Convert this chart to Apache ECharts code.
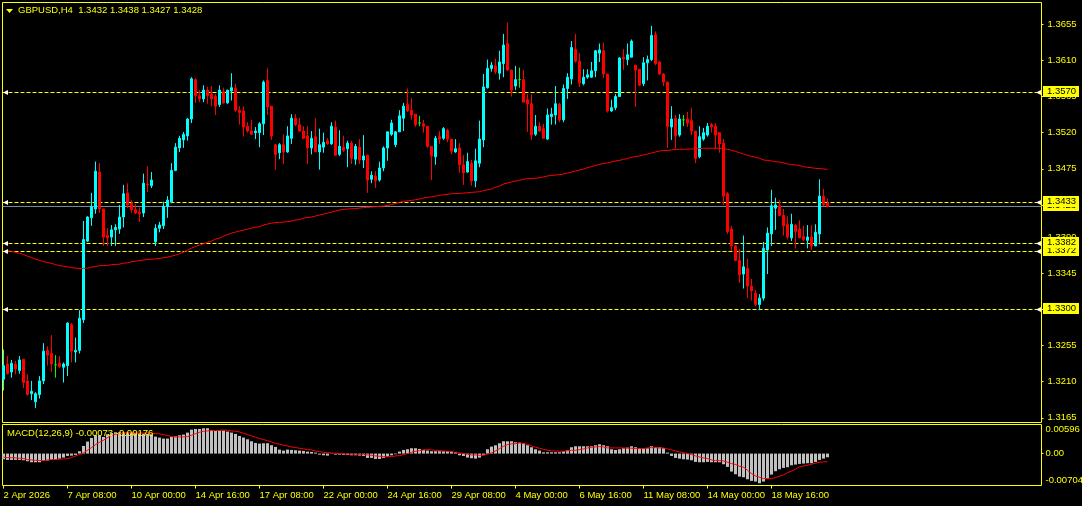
<!DOCTYPE html>
<html>
<head>
<meta charset="utf-8">
<title>GBPUSD,H4</title>
<script src="https://cdn.jsdelivr.net/npm/echarts@6/dist/echarts.min.js"></script>
<style>
html,body{margin:0;padding:0;background:#000;}
#chart_main{width:1082px;height:506px;}
</style>
</head>
<body>
<div id="chart_main"></div>
<script>
// H4 candles, oldest first
var opens = [1.3213,1.3232,1.3222,1.3232,1.3224,1.3238,1.3211,1.3195,1.3185,1.3194,
1.3211,1.3249,1.3245,1.3231,1.3233,1.3228,1.3230,1.3281,1.3247,1.3249,
1.3287,1.3385,1.3414,1.3425,1.3471,1.3425,1.3392,1.3390,1.3399,1.3400,
1.3415,1.3445,1.3432,1.3424,1.3421,1.3420,1.3456,1.3454,1.3384,1.3401,
1.3404,1.3428,1.3434,1.3473,1.3501,1.3511,1.3516,1.3537,1.3586,1.3566,
1.3562,1.3573,1.3568,1.3565,1.3555,1.3571,1.3557,1.3572,1.3575,1.3548,
1.3547,1.3528,1.3522,1.3520,1.3520,1.3531,1.3585,1.3553,1.3505,1.3495,
1.3505,1.3496,1.3513,1.3538,1.3530,1.3522,1.3516,1.3501,1.3515,1.3496,
1.3502,1.3510,1.3506,1.3527,1.3493,1.3502,1.3500,1.3507,1.3487,1.3502,
1.3486,1.3492,1.3462,1.3466,1.3461,1.3476,1.3501,1.3518,1.3505,1.3521,
1.3538,1.3555,1.3548,1.3543,1.3532,1.3531,1.3528,1.3503,1.3490,1.3515,
1.3513,1.3523,1.3512,1.3496,1.3501,1.3480,1.3471,1.3482,1.3460,1.3482,
1.3511,1.3576,1.3600,1.3603,1.3594,1.3606,1.3631,1.3598,1.3578,1.3586,
1.3586,1.3561,1.3556,1.3518,1.3528,1.3525,1.3512,1.3540,1.3542,1.3555,
1.3536,1.3575,1.3587,1.3624,1.3609,1.3581,1.3589,1.3589,1.3597,1.3619,
1.3622,1.3593,1.3547,1.3551,1.3565,1.3614,1.3611,1.3614,1.3604,1.3599,
1.3581,1.3607,1.3611,1.3642,1.3608,1.3593,1.3583,1.3527,1.3538,1.3517,
1.3536,1.3537,1.3535,1.3522,1.3490,1.3512,1.3517,1.3530,1.3528,1.3520,
1.3507,1.3444,1.3400,1.3379,1.3361,1.3344,1.3351,1.3329,1.3320,1.3306,
1.3314,1.3374,1.3394,1.3426,1.3429,1.3417,1.3406,1.3389,1.3405,1.3400,
1.3391,1.3386,1.3390,1.3379,1.3394,1.3441,1.3432];
var closes = [1.3230,1.3220,1.3233,1.3226,1.3237,1.3209,1.3194,1.3198,1.3195,1.3211,
1.3248,1.3243,1.3232,1.3231,1.3229,1.3232,1.3283,1.3248,1.3249,1.3289,
1.3387,1.3415,1.3428,1.3472,1.3425,1.3390,1.3389,1.3399,1.3402,1.3415,
1.3444,1.3430,1.3424,1.3420,1.3419,1.3457,1.3455,1.3461,1.3401,1.3405,
1.3428,1.3436,1.3473,1.3502,1.3513,1.3518,1.3537,1.3587,1.3566,1.3562,
1.3573,1.3566,1.3562,1.3553,1.3573,1.3557,1.3573,1.3576,1.3548,1.3545,
1.3527,1.3522,1.3518,1.3522,1.3531,1.3583,1.3552,1.3516,1.3493,1.3505,
1.3496,1.3516,1.3538,1.3530,1.3522,1.3513,1.3501,1.3513,1.3496,1.3505,
1.3508,1.3506,1.3528,1.3492,1.3503,1.3498,1.3507,1.3488,1.3503,1.3486,
1.3491,1.3461,1.3467,1.3460,1.3476,1.3501,1.3521,1.3532,1.3521,1.3541,
1.3553,1.3547,1.3542,1.3530,1.3532,1.3528,1.3503,1.3491,1.3513,1.3512,
1.3525,1.3512,1.3497,1.3500,1.3480,1.3470,1.3484,1.3460,1.3485,1.3512,
1.3577,1.3600,1.3604,1.3596,1.3608,1.3629,1.3598,1.3573,1.3586,1.3586,
1.3558,1.3556,1.3517,1.3528,1.3522,1.3513,1.3542,1.3543,1.3556,1.3536,
1.3575,1.3589,1.3626,1.3609,1.3582,1.3589,1.3592,1.3597,1.3622,1.3623,
1.3593,1.3547,1.3551,1.3565,1.3613,1.3612,1.3617,1.3634,1.3598,1.3579,
1.3607,1.3611,1.3641,1.3606,1.3593,1.3583,1.3528,1.3537,1.3516,1.3537,
1.3536,1.3532,1.3522,1.3488,1.3515,1.3520,1.3528,1.3527,1.3517,1.3506,
1.3441,1.3397,1.3379,1.3361,1.3343,1.3353,1.3329,1.3323,1.3306,1.3314,
1.3376,1.3395,1.3429,1.3430,1.3417,1.3404,1.3390,1.3406,1.3397,1.3389,
1.3387,1.3390,1.3379,1.3396,1.3441,1.3430,1.3428];
var highs = [1.3250,1.3242,1.3237,1.3236,1.3242,1.3238,1.3219,1.3211,1.3197,1.3217,
1.3258,1.3254,1.3268,1.3243,1.3242,1.3234,1.3284,1.3283,1.3265,1.3299,
1.3410,1.3416,1.3445,1.3484,1.3482,1.3425,1.3401,1.3405,1.3406,1.3430,
1.3455,1.3457,1.3436,1.3431,1.3427,1.3469,1.3478,1.3471,1.3406,1.3409,
1.3434,1.3441,1.3482,1.3507,1.3516,1.3521,1.3538,1.3589,1.3588,1.3573,
1.3579,1.3577,1.3578,1.3568,1.3579,1.3576,1.3573,1.3594,1.3581,1.3553,
1.3553,1.3533,1.3536,1.3527,1.3533,1.3585,1.3600,1.3553,1.3505,1.3507,
1.3518,1.3528,1.3543,1.3543,1.3538,1.3528,1.3528,1.3522,1.3538,1.3525,
1.3520,1.3513,1.3533,1.3535,1.3523,1.3516,1.3510,1.3510,1.3506,1.3512,
1.3517,1.3492,1.3472,1.3472,1.3484,1.3503,1.3521,1.3536,1.3522,1.3548,
1.3557,1.3575,1.3563,1.3543,1.3541,1.3536,1.3528,1.3503,1.3516,1.3522,
1.3527,1.3525,1.3512,1.3512,1.3507,1.3492,1.3495,1.3486,1.3500,1.3535,
1.3593,1.3611,1.3608,1.3612,1.3622,1.3643,1.3657,1.3598,1.3603,1.3601,
1.3598,1.3568,1.3568,1.3542,1.3533,1.3531,1.3550,1.3551,1.3578,1.3557,
1.3580,1.3594,1.3634,1.3643,1.3619,1.3599,1.3599,1.3608,1.3623,1.3631,
1.3632,1.3593,1.3561,1.3568,1.3614,1.3624,1.3631,1.3636,1.3604,1.3599,
1.3614,1.3616,1.3653,1.3646,1.3609,1.3594,1.3583,1.3553,1.3542,1.3543,
1.3542,1.3546,1.3551,1.3522,1.3528,1.3526,1.3532,1.3532,1.3532,1.3520,
1.3512,1.3446,1.3404,1.3380,1.3375,1.3392,1.3363,1.3338,1.3324,1.3319,
1.3384,1.3402,1.3449,1.3439,1.3436,1.3425,1.3416,1.3419,1.3406,1.3411,
1.3404,1.3405,1.3405,1.3406,1.3462,1.3450,1.3438];
var lows = [1.3199,1.3219,1.3215,1.3219,1.3220,1.3202,1.3193,1.3187,1.3177,1.3189,
1.3207,1.3230,1.3222,1.3215,1.3227,1.3209,1.3217,1.3234,1.3234,1.3245,
1.3283,1.3384,1.3404,1.3419,1.3420,1.3379,1.3379,1.3379,1.3379,1.3394,
1.3402,1.3426,1.3420,1.3419,1.3409,1.3415,1.3446,1.3451,1.3379,1.3396,
1.3400,1.3414,1.3432,1.3472,1.3496,1.3501,1.3510,1.3532,1.3557,1.3558,
1.3558,1.3556,1.3553,1.3542,1.3552,1.3556,1.3556,1.3560,1.3546,1.3530,
1.3515,1.3520,1.3517,1.3512,1.3502,1.3517,1.3542,1.3511,1.3474,1.3487,
1.3481,1.3495,1.3506,1.3528,1.3521,1.3512,1.3481,1.3493,1.3496,1.3474,
1.3495,1.3505,1.3505,1.3491,1.3491,1.3496,1.3477,1.3481,1.3480,1.3481,
1.3476,1.3445,1.3457,1.3451,1.3459,1.3472,1.3485,1.3516,1.3502,1.3521,
1.3522,1.3546,1.3536,1.3527,1.3528,1.3520,1.3501,1.3461,1.3480,1.3506,
1.3511,1.3508,1.3493,1.3495,1.3470,1.3455,1.3470,1.3454,1.3452,1.3477,
1.3502,1.3575,1.3596,1.3593,1.3586,1.3589,1.3597,1.3565,1.3573,1.3576,
1.3558,1.3521,1.3511,1.3516,1.3521,1.3513,1.3511,1.3530,1.3530,1.3533,
1.3533,1.3562,1.3580,1.3607,1.3577,1.3579,1.3587,1.3588,1.3589,1.3608,
1.3588,1.3545,1.3546,1.3548,1.3565,1.3598,1.3604,1.3614,1.3552,1.3578,
1.3578,1.3585,1.3609,1.3604,1.3592,1.3578,1.3501,1.3511,1.3500,1.3515,
1.3528,1.3527,1.3517,1.3482,1.3488,1.3510,1.3515,1.3520,1.3500,1.3495,
1.3430,1.3394,1.3373,1.3360,1.3333,1.3326,1.3314,1.3311,1.3304,1.3299,
1.3311,1.3344,1.3379,1.3399,1.3416,1.3392,1.3387,1.3385,1.3376,1.3389,
1.3385,1.3376,1.3374,1.3379,1.3381,1.3429,1.3427];
// moving average, no value on the first bar
var maLine = [null,1.33730,1.33722,1.33710,1.33697,1.33684,1.33663,1.33647,1.33625,1.33609,
1.33594,1.33584,1.33572,1.33559,1.33544,1.33538,1.33529,1.33522,1.33513,1.33510,
1.33510,1.33513,1.33526,1.33534,1.33544,1.33547,1.33547,1.33557,1.33559,1.33563,
1.33576,1.33580,1.33592,1.33600,1.33609,1.33613,1.33622,1.33625,1.33629,1.33634,
1.33644,1.33650,1.33663,1.33675,1.33694,1.33713,1.33738,1.33763,1.33782,1.33800,
1.33819,1.33837,1.33850,1.33875,1.33887,1.33912,1.33931,1.33950,1.33962,1.33975,
1.33987,1.34000,1.34012,1.34024,1.34031,1.34050,1.34062,1.34074,1.34081,1.34083,
1.34087,1.34093,1.34100,1.34112,1.34118,1.34137,1.34143,1.34149,1.34162,1.34174,
1.34187,1.34199,1.34212,1.34224,1.34237,1.34245,1.34249,1.34253,1.34255,1.34261,
1.34268,1.34270,1.34274,1.34278,1.34283,1.34286,1.34295,1.34305,1.34318,1.34332,
1.34345,1.34352,1.34357,1.34365,1.34374,1.34386,1.34395,1.34402,1.34411,1.34420,
1.34427,1.34432,1.34440,1.34442,1.34445,1.34448,1.34452,1.34457,1.34461,1.34465,
1.34480,1.34490,1.34498,1.34520,1.34536,1.34561,1.34573,1.34586,1.34598,1.34607,
1.34619,1.34629,1.34632,1.34632,1.34639,1.34648,1.34661,1.34667,1.34673,1.34677,
1.34685,1.34698,1.34710,1.34723,1.34735,1.34748,1.34764,1.34779,1.34791,1.34806,
1.34816,1.34823,1.34835,1.34848,1.34854,1.34869,1.34876,1.34894,1.34904,1.34910,
1.34922,1.34935,1.34947,1.34960,1.34972,1.34978,1.34978,1.34985,1.34991,1.34993,
1.34993,1.34995,1.34997,1.35001,1.35003,1.35006,1.35006,1.35006,1.35006,1.35006,
1.35003,1.34993,1.34981,1.34966,1.34951,1.34935,1.34919,1.34904,1.34894,1.34881,
1.34860,1.34854,1.34848,1.34839,1.34835,1.34823,1.34810,1.34804,1.34798,1.34791,
1.34776,1.34769,1.34764,1.34756,1.34754,1.34748,1.34742];
// MACD in 0.00001 units
var macdHist = [-121,-135,-135,-135,-135,-142,-163,-185,-185,-185,
-156,-149,-135,-128,-107,-85,-50,-43,-28,50,
163,256,334,391,391,355,412,433,454,454,
454,454,447,440,433,426,419,412,362,341,
320,320,355,369,391,405,447,511,525,525,
540,540,504,483,490,490,469,447,419,376,
341,305,263,227,213,220,220,178,142,85,
64,85,78,71,64,57,43,36,21,-21,
-36,-43,-7,-21,-21,-28,-28,-36,-36,-43,
-50,-92,-92,-114,-114,-92,-64,-36,-14,43,
78,92,114,114,99,78,64,50,50,50,
50,50,43,36,-36,-50,-85,-99,-107,-85,
-36,92,149,178,220,263,263,263,241,234,
220,178,135,92,64,28,28,28,28,28,
50,71,135,156,156,156,156,156,178,199,
178,156,92,78,92,114,128,156,135,114,
114,114,156,135,135,114,21,-50,-92,-107,
-121,-128,-142,-178,-185,-185,-178,-185,-185,-185,
-227,-284,-383,-440,-490,-504,-547,-582,-596,-632,
-596,-533,-447,-376,-334,-305,-291,-249,-234,-220,
-213,-206,-206,-178,-135,-107,-78];
var macdSignal = [-78,-85,-85,-92,-99,-107,-128,-135,-142,-149,
-149,-135,-128,-128,-121,-114,-107,-85,-50,-21,
14,71,128,192,241,284,341,391,412,426,
440,440,440,440,440,440,440,433,426,419,
405,383,362,355,355,355,362,391,426,454,
476,483,490,490,497,504,497,483,476,462,
433,405,376,348,320,298,277,249,220,199,
178,163,142,128,114,99,85,78,57,43,
28,21,14,7,0,-7,-7,-14,-14,-21,
-21,-28,-36,-50,-57,-64,-64,-64,-50,-43,
-21,0,28,50,64,78,85,78,71,64,
57,50,43,21,14,0,-14,-28,-28,-36,
-28,-14,14,57,107,156,192,206,213,227,
213,199,163,135,114,92,71,57,57,50,
50,57,71,71,85,99,121,135,142,149,
142,121,121,121,121,121,114,114,107,107,
107,121,128,128,121,121,99,78,57,36,
21,0,-21,-50,-71,-92,-107,-135,-149,-149,
-156,-185,-213,-234,-270,-291,-355,-426,-476,-504,
-533,-533,-533,-511,-483,-454,-405,-376,-334,-284,
-263,-249,-227,-206,-185,-178,-170];

var levelPrices = [1.3570, 1.3372, 1.3382, 1.3300, 1.3433];
var bidPrice = 1.3428;
var priceTicks = [1.3165,1.3210,1.3255,1.3300,1.3345,1.3390,1.3430,1.3475,1.3520,1.3565,1.3610,1.3655];
var macdTicks = [-0.0068, 0, 0.0062];
var macdTickLabels = ['-0.00704', '0.00', '0.00596'];
var timeTickBars = [0,16,32,48,64,80,96,112,128,144,160,176,192];
var timeTickLabels = ['2 Apr 2026','7 Apr 08:00','10 Apr 00:00','14 Apr 16:00','17 Apr 08:00','22 Apr 00:00','24 Apr 16:00','29 Apr 08:00','4 May 00:00','6 May 16:00','11 May 08:00','14 May 00:00','18 May 16:00'];

var YELLOW = '#ffff00';
var FONT = '"Liberation Sans", sans-serif';
var FONT_SIZE = 9.5;
var candle_data = [], hist_data = [], signal_data = [], ma_data = [];
for(var i=0;i<opens.length;i++){
    candle_data.push([i, opens[i], closes[i], lows[i], highs[i]]);
    hist_data.push([i, macdHist[i]/100000]);
    signal_data.push([i, macdSignal[i]/100000]);
    ma_data.push([i, maLine[i]]);
}

function lineLabel(){
    return {
        show: true,
        position: 'end',
        distance: 1.5,
        width: 32,
        height: 11,
        lineHeight: 11,
        align: 'left',
        verticalAlign: 'middle',
        offset: [0, -1],
        backgroundColor: YELLOW,
        color: '#000',
        fontFamily: FONT,
        fontSize: FONT_SIZE,
        padding: [0, 0, 0, 4],
        formatter: function(p){
            return Number(p.value).toFixed(4);
        }
    };
}

var markLines = [{yAxis: bidPrice, lineStyle: {color: '#778899', type: 'solid', width: 1}, label: lineLabel()}];
var markPoints = [];
for(var j=0;j<levelPrices.length;j++){
    markLines.push({yAxis: levelPrices[j], lineStyle: {color: YELLOW, type: [4, 2], width: 1}, label: lineLabel()});
    markPoints.push({coord: [0.5, levelPrices[j]]});
    markPoints.push({coord: [258.75, levelPrices[j]]});
}

var xMin = -0.25, xMax = 259.5;
var myChart = echarts.init(document.getElementById('chart_main'));
var option = {
    backgroundColor: '#000',
    animation: false,
    title: [
        {
            text: 'GBPUSD,H4  1.3432 1.3438 1.3427 1.3428',
            left: 18, top: 5, padding: 0,
            textStyle: {color: YELLOW, fontSize: FONT_SIZE, fontWeight: 'normal', fontFamily: FONT, lineHeight: 11}
        },
        {
            text: 'MACD(12,26,9) -0.00073 -0.00176',
            left: 7, top: 428, padding: 0,
            textStyle: {color: YELLOW, fontSize: FONT_SIZE, fontWeight: 'normal', fontFamily: FONT, lineHeight: 11}
        }
    ],
    graphic: [{
        type: 'polygon',
        shape: {points: [[6,9],[13,9],[9.5,13]]},
        style: {fill: YELLOW},
        silent: true
    }],
    grid: [
        {left: 2.5, top: 2.5, width: 1039, height: 420, outerBoundsMode: 'none', show: true, borderColor: YELLOW, borderWidth: 1, backgroundColor: 'transparent'},
        {left: 2.5, top: 424.5, width: 1039, height: 61, outerBoundsMode: 'none', show: true, borderColor: YELLOW, borderWidth: 1, backgroundColor: 'transparent'}
    ],
    xAxis: [
        {type: 'value', gridIndex: 0, min: xMin, max: xMax, show: false, axisLine: {onZero: false}, splitLine: {show: false}},
        {
            type: 'value', gridIndex: 1, min: xMin, max: xMax,
            splitLine: {show: false},
            axisLine: {show: false, onZero: false},
            axisTick: {show: true, customValues: timeTickBars, length: 3, lineStyle: {color: YELLOW}},
            axisLabel: {
                customValues: timeTickBars,
                color: YELLOW, fontSize: FONT_SIZE, fontFamily: FONT, align: 'left', margin: 5,
                formatter: function(v){
                    return timeTickLabels[timeTickBars.indexOf(v)];
                }
            }
        }
    ],
    yAxis: [
        {
            type: 'value', gridIndex: 0, position: 'right', min: 1.31592, max: 1.368204,
            splitLine: {show: false},
            axisLine: {show: false, onZero: false},
            axisTick: {show: true, customValues: priceTicks, length: 2, lineStyle: {color: YELLOW}},
            axisLabel: {
                customValues: priceTicks,
                color: YELLOW, fontSize: FONT_SIZE, fontFamily: FONT, margin: 6,
                formatter: function(v){
                    return v.toFixed(4);
                }
            }
        },
        {
            type: 'value', gridIndex: 1, position: 'right', min: -0.0068, max: 0.0062,
            splitLine: {show: false},
            axisLine: {show: false, onZero: false},
            axisTick: {show: true, customValues: [0], length: 2, lineStyle: {color: YELLOW}},
            axisLabel: {
                customValues: macdTicks,
                color: YELLOW, fontSize: FONT_SIZE, fontFamily: FONT, margin: 4,
                verticalAlignMinLabel: 'bottom',
                verticalAlignMaxLabel: 'top',
                formatter: function(v){
                    return macdTickLabels[macdTicks.indexOf(v)];
                }
            }
        }
    ],
    series: [
        {
            name: 'GBPUSD',
            type: 'candlestick',
            xAxisIndex: 0, yAxisIndex: 0,
            barWidth: 2,
            data: candle_data,
            itemStyle: {
                color: '#00ffff', color0: '#ff0000',
                borderColor: '#00ffff', borderColor0: '#ff0000', borderColorDoji: '#00ff00',
                borderWidth: 1
            },
            markLine: {
                silent: true,
                z: 1,
                symbol: 'none',
                precision: 4,
                data: markLines
            },
            markPoint: {
                silent: true,
                symbol: 'triangle',
                symbolSize: 5,
                symbolRotate: 90,
                itemStyle: {color: '#ffffff'},
                label: {show: false},
                data: markPoints
            }
        },
        {
            name: 'MA',
            type: 'line',
            xAxisIndex: 0, yAxisIndex: 0,
            z: 3,
            symbol: 'none',
            lineStyle: {color: '#ff0000', width: 1},
            data: ma_data
        },
        {
            name: 'MACD',
            type: 'bar',
            xAxisIndex: 1, yAxisIndex: 1,
            barWidth: 3,
            itemStyle: {color: '#c0c0c0'},
            data: hist_data
        },
        {
            name: 'Signal',
            type: 'line',
            xAxisIndex: 1, yAxisIndex: 1,
            symbol: 'none',
            lineStyle: {color: '#ff0000', width: 1},
            data: signal_data
        }
    ]
};
myChart.setOption(option);
</script>
</body>
</html>
